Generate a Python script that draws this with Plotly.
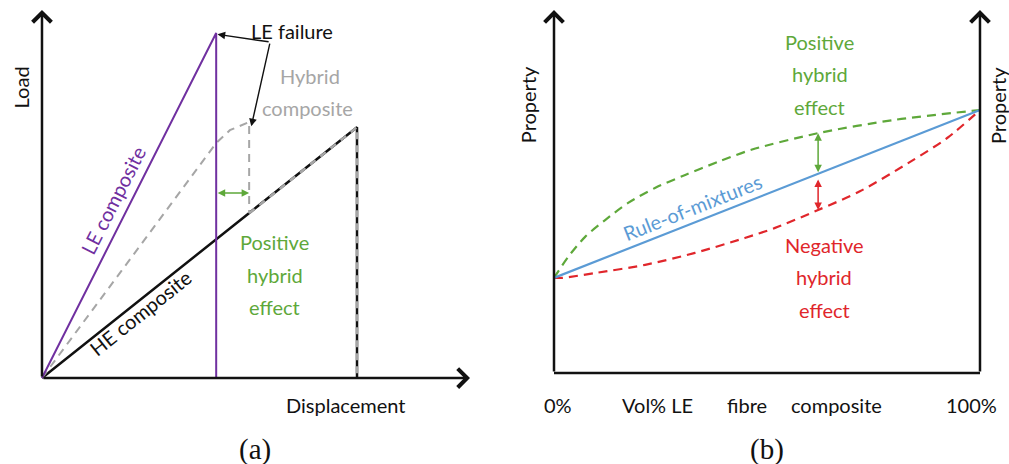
import plotly.graph_objects as go

# ---------------- data: panel (a) Load vs Displacement (arbitrary units) ----------------
le_x = [0, 4.07, 4.07]
le_y = [0, 8.06, 0]
he_x = [0, 7.36, 7.36]
he_y = [0, 5.86, 0]
hyb_x = [0, 4.07, 4.39, 4.84, 4.84]
hyb_y = [0, 5.49, 5.79, 5.98, 3.85]
he_overlay_x = [4.84, 7.36, 7.36]
he_overlay_y = [3.85, 5.86, 0]
axis_a = {"x_end": 10.0, "y_end": 8.6}
gap_y = 4.32

# ---------------- data: panel (b) Property vs Vol% LE ----------------
rom_x = [0, 100]
rom_y = [25.5, 70.5]
pos_x = [0, 3.3, 7.3, 12.0, 17.4, 23.7, 30.8, 38.5, 46.5, 62.0, 79.6, 100]
pos_y = [25.5, 31.1, 36.5, 41.0, 45.6, 49.6, 53.1, 56.6, 59.9, 64.3, 67.8, 70.5]
neg_x = [0, 1.9, 9.6, 21.4, 33.1, 44.8, 51.9, 62.0, 71.8, 83.6, 92.3, 100]
neg_y = [25.5, 25.5, 26.8, 29.0, 32.2, 36.2, 38.9, 43.7, 48.7, 56.6, 63.0, 70.5]
axis_b = {"y_end": 97.3}
arrow_x = 62
pos_arrow = (53.4, 64.3)
neg_arrow = (52.3, 43.7)
bottom_labels = ["0%", "Vol% LE", "fibre", "composite", "100%"]
bottom_pos = [0.94, 24.2, 45.3, 66.4, 98.1]

PURPLE = "#7030a0"
GREEN = "#5ea83a"
RED = "#e0262b"
BLUE = "#5b9bd5"
GREY = "#a6a6a6"
BLACK = "#111111"
FONT = "Lato"
FS = 20

fig = go.Figure()

# panel (a)
fig.add_trace(go.Scatter(x=he_x, y=he_y, mode="lines", line=dict(color=BLACK, width=2.5),
                         xaxis="x", yaxis="y", hoverinfo="skip"))
fig.add_trace(go.Scatter(x=he_overlay_x, y=he_overlay_y, mode="lines",
                         line=dict(color=GREY, width=2.5, dash="7px,6px"),
                         xaxis="x", yaxis="y", hoverinfo="skip"))
fig.add_trace(go.Scatter(x=hyb_x, y=hyb_y, mode="lines",
                         line=dict(color=GREY, width=2, dash="8px,6px"),
                         xaxis="x", yaxis="y", hoverinfo="skip"))
fig.add_trace(go.Scatter(x=le_x, y=le_y, mode="lines", line=dict(color=PURPLE, width=2),
                         xaxis="x", yaxis="y", hoverinfo="skip"))

# panel (b)
fig.add_trace(go.Scatter(x=[0, 100], y=[0, 0], mode="lines", line=dict(color=BLACK, width=2.5),
                         xaxis="x2", yaxis="y2", hoverinfo="skip"))
fig.add_trace(go.Scatter(x=pos_x, y=pos_y, mode="lines",
                         line=dict(color=GREEN, width=2.2, dash="9px,6px", shape="spline", smoothing=0.8),
                         xaxis="x2", yaxis="y2", hoverinfo="skip"))
fig.add_trace(go.Scatter(x=neg_x, y=neg_y, mode="lines",
                         line=dict(color=RED, width=2.2, dash="9px,6px", shape="spline", smoothing=0.8),
                         xaxis="x2", yaxis="y2", hoverinfo="skip"))
fig.add_trace(go.Scatter(x=rom_x, y=rom_y, mode="lines", line=dict(color=BLUE, width=2.2),
                         xaxis="x2", yaxis="y2", hoverinfo="skip"))

ann = []

def arrow(xr, yr, x, y, ax, ay, color, width, head, size, side="end"):
    ann.append(dict(xref=xr, yref=yr, axref=xr, ayref=yr, x=x, y=y, ax=ax, ay=ay,
                    showarrow=True, arrowcolor=color, arrowwidth=width, arrowhead=head,
                    startarrowhead=head, arrowsize=size, startarrowsize=size,
                    arrowside=side, text="", standoff=0, startstandoff=0))

def text(xr, yr, x, y, t, color=BLACK, size=FS, angle=0, family=FONT):
    ann.append(dict(xref=xr, yref=yr, x=x, y=y, text=t, showarrow=False, textangle=angle,
                    font=dict(family=family, size=size, color=color),
                    xanchor="center", yanchor="middle"))

# axes panel (a)
arrow("x", "y", 0, axis_a["y_end"], 0, 0, BLACK, 2.5, 4, 1.45)
arrow("x", "y", axis_a["x_end"], 0, 0, 0, BLACK, 2.5, 4, 1.45)
# axes panel (b)
arrow("x2", "y2", 0, axis_b["y_end"], 0, 0, BLACK, 2.5, 4, 1.45)
arrow("x2", "y2", 100, axis_b["y_end"], 100, 0, BLACK, 2.5, 4, 1.45)

# hybrid gap arrow (a)
arrow("x", "y", hyb_x[3], gap_y, le_x[1], gap_y, GREEN, 1.5, 2, 1.0, "end+start")
# LE failure pointers
arrow("x", "y", le_x[1] + 0.03, le_y[1] - 0.03, 5.33, 7.85, BLACK, 1.4, 2, 1.1)
arrow("x", "y", hyb_x[3] + 0.05, hyb_y[3] - 0.1, 5.33, 7.85, BLACK, 1.4, 2, 1.1)

# hybrid effect arrows (b)
arrow("x2", "y2", arrow_x, pos_arrow[1], arrow_x, pos_arrow[0], GREEN, 1.5, 2, 1.0, "end+start")
arrow("x2", "y2", arrow_x, neg_arrow[1], arrow_x, neg_arrow[0], RED, 1.5, 2, 1.0, "end+start")

# texts panel (a)
text("x", "y", -0.5, 6.78, "Load", angle=-90)
text("x", "y", 7.08, -0.63, "Displacement")
text("x", "y", 4.98, -1.66, "(a)", size=29, family="Liberation Serif")
text("x", "y", 5.84, 8.11, "LE failure")
text("x", "y", 6.26, 7.06, "Hybrid", color=GREY)
text("x", "y", 6.21, 6.31, "composite", color=GREY)
text("x", "y", 1.66, 4.16, "LE composite", color=PURPLE, angle=-63)
text("x", "y", 2.29, 1.52, "HE composite", angle=-38.5)
for yy, t in zip([3.18, 2.41, 1.66], ["Positive", "hybrid", "effect"]):
    text("x", "y", 5.44, yy, t, color=GREEN)

# texts panel (b)
text("x2", "y2", -6.1, 71.8, "Property", angle=-90)
text("x2", "y2", 104.2, 71.8, "Property", angle=-90)
for xx, t in zip(bottom_pos, bottom_labels):
    text("x2", "y2", xx, -8.6, t)
text("x2", "y2", 50, -20.4, "(b)", size=29, family="Liberation Serif")
text("x2", "y2", 32.6, 44.5, "Rule-of-mixtures", color=BLUE, angle=-21.5)
for yy, t in zip([88.7, 80.2, 71.3], ["Positive", "hybrid", "effect"]):
    text("x2", "y2", 62.4, yy, t, color=GREEN)
for yy, t in zip([34.3, 25.7, 16.9], ["Negative", "hybrid", "effect"]):
    text("x2", "y2", 63.4, yy, t, color=RED)

hidden = dict(visible=False, showgrid=False, zeroline=False, fixedrange=True)
fig.update_layout(
    width=1009, height=464,
    margin=dict(l=0, r=0, t=0, b=0),
    paper_bgcolor="white", plot_bgcolor="white",
    showlegend=False,
    xaxis=dict(domain=[0, 0.5], range=[-0.981, 10.806], anchor="y", **hidden),
    yaxis=dict(domain=[0, 1], range=[-2.009, 8.832], anchor="x", **hidden),
    xaxis2=dict(domain=[0.5, 1], range=[-11.62, 106.81], anchor="y2", **hidden),
    yaxis2=dict(domain=[0, 1], range=[-24.4, 100], anchor="x2", **hidden),
    annotations=ann,
)

# remove the browser's default page margin so the figure fills the window exactly
fig.write_html("out.html",
               config={"displayModeBar": False},
               post_script="document.body.style.margin='0';document.body.style.overflow='hidden';")
